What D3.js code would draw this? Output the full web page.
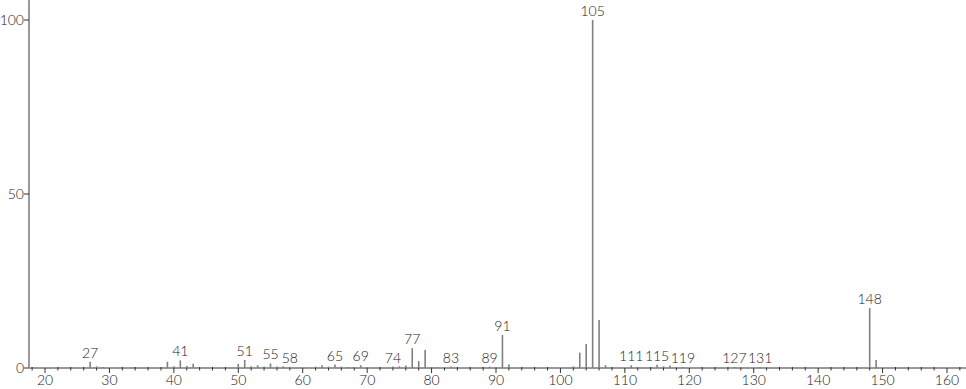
<!DOCTYPE html>
<html><head><meta charset="utf-8">
<script src="https://cdn.jsdelivr.net/npm/d3@7"></script>
<style>body{margin:0;background:#fff}svg{display:block}text{font-family:"Lato","DejaVu Sans",sans-serif;font-weight:300;fill:#222}</style>
</head><body><svg id="c" width="966" height="389"></svg>
<script>
const mz =        [27, 28, 29, 39, 40, 41, 42, 43, 50, 51, 52, 53, 54, 55, 56, 57, 58, 62, 63, 64, 65, 66, 67, 68, 69, 70, 74, 75, 76, 77, 78, 79, 80, 81, 82, 83, 89, 90, 91, 92, 102, 103, 104, 105, 106, 107, 111, 112, 115, 116, 117, 118, 119, 127, 128, 131, 132, 148, 149];
const intensity = [1.8,0.5,0.3,1.8,0.5,2.2,0.6,1.2,1.2,2.3,0.5,0.8,0.4,1.3,0.4,0.5,0.3,0.4,0.8,0.4,1.0,0.4,0.3,0.3,0.8,0.3,0.4,0.5,0.7,5.7,2.0,5.2,0.3,0.3,0.3,0.4,0.4,0.3,9.5,1.1,0.5, 4.4, 6.9, 100, 13.8, 0.8, 0.8, 0.3, 0.9, 0.5, 0.7, 0.3, 0.3, 0.3, 0.3, 0.3, 0.3, 17.2, 2.3];
const labeled = [27, 41, 51, 55, 58, 65, 69, 74, 77, 83, 89, 91, 105, 111, 115, 119, 127, 131, 148];
const xTicks = [20, 30, 40, 50, 60, 70, 80, 90, 100, 110, 120, 130, 140, 150, 160];
const yTicks = [0, 50, 100];

const svg = d3.select("#c");
const x = d3.scaleLinear().domain([20, 160]).range([45, 947]);
const y = d3.scaleLinear().domain([0, 100]).range([368, 20]);
const x0 = x.invert(29), x1 = x.invert(966);

// x axis
const gx = svg.append("g").attr("transform", `translate(0,${y(0)})`);
gx.append("line").attr("x1", x(x0)).attr("x2", x(x1)).attr("stroke", "#333").attr("stroke-width", 1);
const minor = d3.range(18, 163, 2).filter(v => v % 10 !== 0);
gx.selectAll(".mn").data(minor).join("line")
  .attr("x1", d => x(d)).attr("x2", d => x(d)).attr("y1", -1).attr("y2", 2.5).attr("stroke", "#333");
gx.selectAll(".mj").data(xTicks).join("line")
  .attr("x1", d => x(d)).attr("x2", d => x(d)).attr("y1", 0).attr("y2", 5).attr("stroke", "#333");
gx.selectAll(".tl").data(xTicks).join("text")
  .attr("x", d => x(d)).attr("y", 17).attr("text-anchor", "middle").attr("font-size", 14).text(d => d);

// y axis
svg.append("line").attr("x1", 29).attr("x2", 29).attr("y1", 0).attr("y2", y(0))
  .attr("stroke", "#999").attr("stroke-width", 2);
svg.selectAll(".yt").data(yTicks).join("line")
  .attr("x1", 24).attr("x2", 29).attr("y1", d => y(d)).attr("y2", d => y(d)).attr("stroke", "#333");
svg.selectAll(".yl").data(yTicks).join("text")
  .attr("x", 24).attr("y", d => y(d) + 5).attr("text-anchor", "end").attr("font-size", 14).text(d => d);

// peaks
const data = mz.map((m, i) => ({m, v: intensity[i]}));
svg.selectAll(".pk").data(data).join("line")
  .attr("x1", d => x(d.m)).attr("x2", d => x(d.m)).attr("y1", y(0)).attr("y2", d => y(d.v))
  .attr("stroke", "#808080").attr("stroke-width", 1.6);

svg.selectAll(".pl").data(data.filter(d => labeled.includes(d.m))).join("text")
  .attr("x", d => x(d.m)).attr("y", d => y(d.v) - 4).attr("text-anchor", "middle").attr("font-size", 14)
  .text(d => d.m);
</script></body></html>
